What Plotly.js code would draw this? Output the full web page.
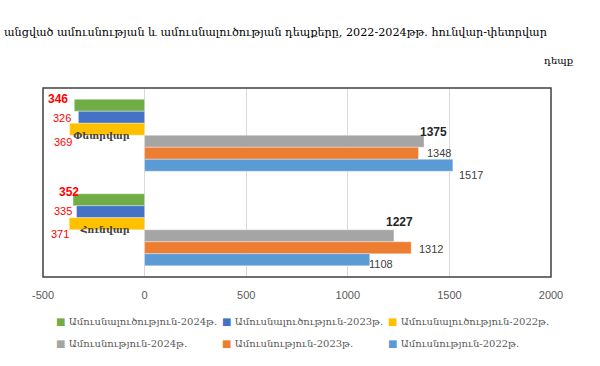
<!DOCTYPE html>
<html>
<head>
<meta charset="utf-8">
<script src="https://cdn.plot.ly/plotly-3.0.1.min.js"></script>
<style>html,body{margin:0;padding:0;background:#fff;}#chart{width:600px;height:366px;}</style>
</head>
<body>
<div id="chart"></div>
<script>
// ---- data ----
const categories = ['Փետրվար', 'Հունվար'];
const divorce2024 = [346, 352];
const divorce2023 = [326, 335];
const divorce2022 = [369, 371];
const marriage2024 = [1375, 1227];
const marriage2023 = [1348, 1312];
const marriage2022 = [1517, 1108];
const seriesNames = [
  'Ամուսնալուծություն-2024թ.',
  'Ամուսնալուծություն-2023թ.',
  'Ամուսնալուծություն-2022թ.',
  'Ամուսնություն-2024թ.',
  'Ամուսնություն-2023թ.',
  'Ամուսնություն-2022թ.'
];
const xTickVals = [-500, 0, 500, 1000, 1500, 2000];
const titleText = 'անցված ամուսնության և ամուսնալուծության դեպքերը, 2022-2024թթ. հունվար-փետրվար';
const unitText = 'դեպք';

// ---- styles ----
const colors = ['#70AD47', '#4472C4', '#FFC000', '#A5A5A5', '#ED7D31', '#5B9BD5'];
const seriesValues = [divorce2024, divorce2023, divorce2022, marriage2024, marriage2023, marriage2022];
const isDivorce = [true, true, true, false, false, false];

const traces = seriesValues.map((vals, i) => ({
  type: 'bar',
  orientation: 'h',
  name: seriesNames[i],
  y: categories,
  x: vals.map(v => isDivorce[i] ? -v : v),
  marker: {color: colors[i], line: {color: 'rgba(255,255,255,0.6)', width: 0.6}},
  showlegend: false,
  hoverinfo: 'skip'
}));

// label placement styles: [xshift, yshift] per series per category
const labelShift = [
  [[-5, 36], [7, 38]],
  [[-6, 17], [-4, 19]],
  [[3, -7], [1, -4]],
  [[-5, 3], [-9, 8]],
  [[7, -18], [7, -19]],
  [[5, -40], [-2, -34]]
];
const labelBold = [true, false, false, true, false, false];

const annotations = [];
seriesValues.forEach((vals, i) => {
  vals.forEach((v, j) => {
    annotations.push({
      xref: 'x', yref: 'y',
      x: isDivorce[i] ? -v : v,
      y: categories[j],
      text: labelBold[i] ? '<b>' + v + '</b>' : String(v),
      showarrow: false,
      xanchor: isDivorce[i] ? 'right' : 'left',
      yanchor: 'middle',
      xshift: labelShift[i][j][0],
      yshift: labelShift[i][j][1],
      borderpad: 0,
      font: {
        family: 'Liberation Sans, Arial, sans-serif',
        size: labelBold[i] ? 12 : 11,
        color: isDivorce[i] ? '#FF0000' : (labelBold[i] ? '#262626' : '#404040')
      }
    });
  });
});

// title & unit
annotations.push({
  xref: 'paper', yref: 'paper', x: -0.081, y: 1.296,
  xanchor: 'left', yanchor: 'middle', showarrow: false,
  text: titleText,
  font: {family: 'DejaVu Serif, DejaVu Sans, serif', size: 11.2, color: '#000000'}
});
annotations.push({
  xref: 'paper', yref: 'paper', x: 1.016, y: 1.148,
  xanchor: 'center', yanchor: 'middle', showarrow: false,
  text: unitText,
  font: {family: 'DejaVu Serif, DejaVu Sans, serif', size: 10, color: '#000000'}
});

// custom legend (two rows of three)
const legendCols = [0.0217, 0.3484, 0.6752];
const legendRows = [-0.233, -0.354];
seriesNames.forEach((nm, i) => {
  annotations.push({
    xref: 'paper', yref: 'paper',
    x: legendCols[i % 3], y: legendRows[Math.floor(i / 3)],
    xanchor: 'left', yanchor: 'middle', showarrow: false,
    text: '<span style="color:' + colors[i] + '">■</span> ' + nm,
    font: {family: 'DejaVu Serif, DejaVu Sans, serif', size: 10, color: '#595959'}
  });
});

const layout = {
  width: 600, height: 366,
  margin: {l: 43, r: 49, t: 88, b: 89, pad: 0},
  paper_bgcolor: '#ffffff', plot_bgcolor: '#ffffff',
  barmode: 'group', bargap: 0.238, bargroupgap: 0,
  showlegend: false,
  xaxis: {
    range: [-500, 2000], tickvals: xTickVals, ticktext: xTickVals.map(String),
    showgrid: true, gridcolor: '#d9d9d9', gridwidth: 1,
    zeroline: true, zerolinecolor: '#d9d9d9', zerolinewidth: 1,
    showline: false,
    ticks: 'outside', ticklen: 8, tickcolor: 'rgba(0,0,0,0)',
    tickfont: {family: 'Liberation Sans, Arial, sans-serif', size: 11, color: '#595959'},
    fixedrange: true
  },
  yaxis: {
    type: 'category', categoryorder: 'array', categoryarray: categories,
    autorange: 'reversed',
    anchor: 'free', position: 0.2, side: 'left',
    showgrid: false, zeroline: false, showline: false,
    ticks: 'outside', ticklen: 13, tickcolor: 'rgba(0,0,0,0)',
    tickfont: {family: 'DejaVu Serif, DejaVu Sans, serif', size: 9.5, color: '#404040', weight: 'bold'},
    fixedrange: true
  },
  shapes: [{
    type: 'rect', xref: 'paper', yref: 'paper', x0: 0, x1: 1, y0: 0, y1: 1,
    line: {color: '#404040', width: 1.5}, layer: 'above'
  }],
  annotations: annotations
};

Plotly.newPlot('chart', traces, layout, {displayModeBar: false, staticPlot: true});
</script>
</body>
</html>
